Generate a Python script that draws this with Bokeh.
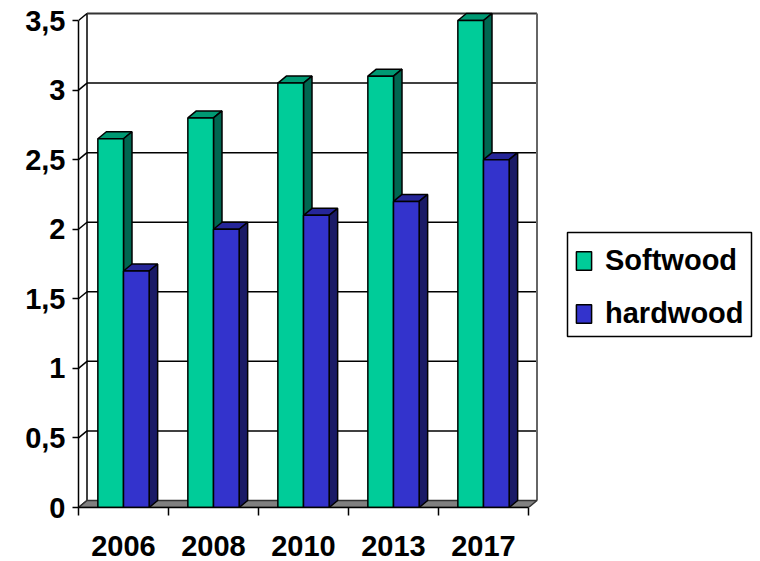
from bokeh.plotting import figure
from bokeh.models import Range1d, FixedTicker, Legend, LegendItem, BoxAnnotation
from bokeh.embed import file_html
from bokeh.resources import INLINE

years = ["2006", "2008", "2010", "2013", "2017"]
softwood = [2.65, 2.8, 3.05, 3.1, 3.5]
hardwood = [1.7, 2.0, 2.1, 2.2, 2.5]
y_ticks = [0, 0.5, 1, 1.5, 2, 2.5, 3, 3.5]
y_labels = ["0", "0,5", "1", "1,5", "2", "2,5", "3", "3,5"]

FONT = "Liberation Sans"
SIZE = "29px"
DX = 8.5 / 90
DY = 7 / 139.14
BAR = 0.285
YMAX = y_ticks[-1]
N = len(years)

p = figure(width=760, height=561, output_backend="svg", toolbar_location=None,
           x_range=Range1d(0, 682 / 90), y_range=Range1d(0, 499 / 139.14),
           min_border_left=78, min_border_right=0, min_border_top=8, min_border_bottom=54,
           outline_line_color=None)
p.grid.visible = False
p.background_fill_color = "white"

# back wall grid, side wall
p.multi_line([[DX, N + DX] for t in y_ticks[1:-1]], [[t + DY, t + DY] for t in y_ticks[1:-1]],
             line_color="black", line_width=1.5)
p.multi_line([[0, DX] for t in y_ticks], [[t, t + DY] for t in y_ticks], line_color="black", line_width=1.5)
p.line([DX, DX], [DY, YMAX + DY], line_color="black", line_width=1.5)
p.line([DX, N + DX], [YMAX + DY, YMAX + DY], line_color="#333333", line_width=2)
p.line([N + DX, N + DX], [DY, YMAX + DY], line_color="#666666", line_width=2)

# floor
p.patch([0, N, N + DX, DX], [0, 0, DY, DY], fill_color="#808080", line_color="#333333", line_width=1.5)


def bars(values, lefts, front, top, side):
    rights = [l + BAR for l in lefts]
    p.patches([[l, r, r + DX, l + DX] for l, r in zip(lefts, rights)],
              [[v, v, v + DY, v + DY] for v in values],
              fill_color=top, line_color="black", line_width=1.5)
    p.patches([[r, r + DX, r + DX, r] for r in rights],
              [[0, DY, v + DY, v] for v in values],
              fill_color=side, line_color="black", line_width=1.5)
    return p.quad(left=lefts, right=rights, bottom=0, top=values,
                  fill_color=front, line_color="black", line_width=1.5)


centers = [i + 0.5 for i in range(N)]
r_soft = bars(softwood, [c - BAR for c in centers], "#00CC99", "#009973", "#006650")
r_hard = bars(hardwood, centers, "#3333CC", "#262699", "#1A1A66")

# axes
xa = p.xaxis[0]
xa.bounds = (0, N)
xa.ticker = FixedTicker(ticks=centers, minor_ticks=list(range(N + 1)))
xa.major_label_overrides = {c: y for c, y in zip(centers, years)}
xa.major_tick_line_color = None
xa.minor_tick_in = 0
xa.minor_tick_out = 8
xa.minor_tick_line_color = "black"
xa.minor_tick_line_width = 1.5
xa.axis_line_color = "black"
xa.axis_line_width = 1.5
xa.major_label_text_font = FONT
xa.major_label_text_font_style = "bold"
xa.major_label_text_font_size = SIZE
xa.major_label_text_color = "black"
xa.major_label_text_line_height = 0.7
xa.major_label_standoff = 20

ya = p.yaxis[0]
ya.bounds = (0, YMAX)
ya.ticker = FixedTicker(ticks=y_ticks)
ya.major_label_overrides = {t: l for t, l in zip(y_ticks, y_labels)}
ya.major_tick_in = 0
ya.major_tick_out = 6
ya.minor_tick_line_color = None
ya.major_tick_line_color = "black"
ya.major_tick_line_width = 1.5
ya.axis_line_color = "black"
ya.axis_line_width = 1.5
ya.major_label_text_font = FONT
ya.major_label_text_font_style = "bold"
ya.major_label_text_font_size = SIZE
ya.major_label_text_color = "black"
ya.major_label_standoff = 7

# legend frame, in screen units measured from the plot frame's lower left corner
box = BoxAnnotation(left=489, right=673, top=275, bottom=171,
                    left_units="screen", right_units="screen", top_units="screen", bottom_units="screen",
                    fill_color="white", fill_alpha=1, line_color="black", line_alpha=1, line_width=1.5)
p.add_layout(box)

legend = Legend(items=[LegendItem(label="Softwood", renderers=[r_soft]),
                       LegendItem(label="hardwood", renderers=[r_hard])],
                location=(486, 167), orientation="vertical",
                glyph_width=19, glyph_height=23, label_width=130,
                padding=10, spacing=20, margin=0,
                border_line_color="white", border_line_alpha=0, background_fill_alpha=0,
                label_text_font=FONT, label_text_font_style="bold",
                label_text_font_size=SIZE, label_text_color="black",
                label_standoff=12)
p.add_layout(legend)

open("out.html", "w").write(file_html(p, INLINE))
